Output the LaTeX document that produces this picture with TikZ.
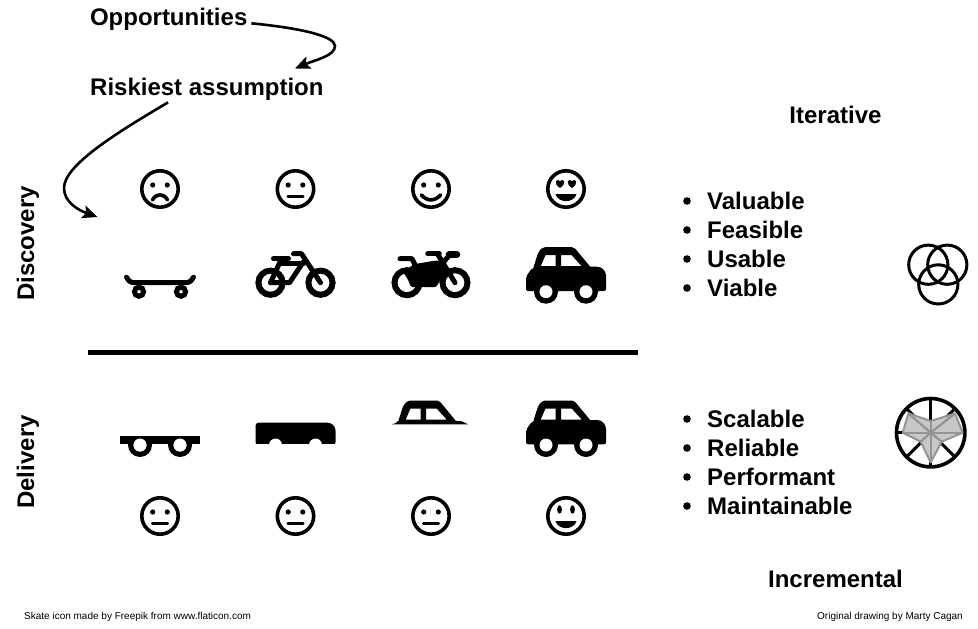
\documentclass[tikz,border=0pt]{standalone}
\usepackage{fontspec}
\setmainfont{Liberation Sans}
\usetikzlibrary{arrows.meta}

\tikzset{
    bigtext/.style={font=\bfseries\fontsize{24}{24}\selectfont,inner sep=2pt},
    smalltext/.style={font=\fontsize{10}{12}\selectfont,inner sep=0pt},
    curvearrow/.style={line width=2.6,-{Stealth[length=15pt,width=13pt,inset=3pt]}},
    wheelpart/.style={line width=6},
    roundpart/.style={line width=5,line cap=round,line join=round},
    facering/.pic={
        \draw[line width=3.6](0,0)circle[radius=18.2];
    },
    roundeyes/.pic={
        \fill(-7.3,-4)circle[radius=2.6];
        \fill(7.3,-4)circle[radius=2.6];
    },
    sadface/.pic={
        \pic{facering};\pic{roundeyes};
        \draw[line width=3.6,line cap=round](-7.5,11)..controls(-4,4)and(4,4)..(7.5,11);
    },
    plainface/.pic={
        \pic{facering};\pic{roundeyes};
        \draw[line width=3.4,line cap=round](-7.5,7.5)--(7.5,7.5);
    },
    smileface/.pic={
        \pic{facering};\pic{roundeyes};
        \draw[line width=3.6,line cap=round](-9.5,6)..controls(-4,12.5)and(4,12.5)..(9.5,6);
    },
    loveface/.pic={
        \pic{facering};
        \foreach \sx in {-6,6}{
            \fill[shift={(\sx,-5.5)}](0,4.5)..controls(-7,0)and(-4,-6)..(0,-2.5)..controls(4,-6)and(7,0)..(0,4.5);
        }
        \fill(-10.5,5)--(10.5,5)..controls(8,14.5)and(-8,14.5)..cycle;
    },
    happyface/.pic={
        \pic{facering};
        \fill(-6.5,-6.5)ellipse[x radius=2.4,y radius=4.2];
        \fill(6.5,-6.5)ellipse[x radius=2.4,y radius=4.2];
        \fill(-10.5,5)--(10.5,5)..controls(8,14.5)and(-8,14.5)..cycle;
    },
    skateboard/.pic={
        \draw[line width=5,line cap=round](-33.5,-14.5)..controls(-31,-10)and(-29,-9)..(-25,-9)--(25,-9)..controls(29,-9)and(31,-10)..(33.5,-14.5);
        \foreach \sx in {-21,21}{
            \draw[line width=5](\sx,0)circle[radius=4.6];
        }
    },
    bicycle/.pic={
        \begin{scope}[shift={(0,-9)}]
            \foreach \sx in {-25,25}{
                \draw[wheelpart](\sx,0)circle[radius=12.1];
            }
            \draw[roundpart](-22,-24)--(-7,-24);
            \draw[roundpart](-25,0)--(-14,-24);
            \draw[roundpart](-25,0)--(-6,0)--(8,-21);
            \draw[roundpart](-14,-19)--(8,-19);
            \draw[roundpart](25,0)--(6,-29)--(-2,-29);
        \end{scope}
    },
    motorbike/.pic={
        \begin{scope}[shift={(0,-9)}]
            \foreach \sx in {-24,24}{
                \draw[wheelpart](\sx,0)circle[radius=12.5];
            }
            \draw[roundpart](-31,-24)--(-19,-24)--(-15,-16);
            \fill[rounded corners=1.5](-28,-11)--(-17,-18.5)--(4,-22)--(10,-22)--(16,-13)--(5,4.5)--(-20,4.5)--(-23,-3)--cycle;
            \draw[roundpart](24,0)--(7,-28);
            \draw[roundpart,line width=5.5](-3,-29)--(8,-29);
            \draw[roundpart,line width=6.5](18,-28)--(26,-28);
            \draw[roundpart](11,-19)--(19,-28);
        \end{scope}
    },
    carwheels/.pic={
        \foreach \sx in {-20,20}{
            \fill(\sx,0)circle[radius=12];
        }
        \foreach \sx in {-20,20}{
            \fill[white](\sx,0)circle[radius=6.5];
        }
    },
    carcabin/.pic={
        \fill[even odd rule,rounded corners=2](-33,-23)--(-27.5,-40)--(-23,-44.5)--(8,-44.5)--(25,-24)--(25,-23)--cycle
        [sharp corners](-25.3,-25.5)--(-10.5,-25.5)--(-10.5,-36.5)--(-20.5,-36.5)--cycle
        (-5,-25.5)--(15.7,-25.5)--(5.7,-36.5)--(-5,-36.5)--cycle;
    },
    carroof/.pic={
        \pic{carcabin};
        \fill(-39,-20.7)..controls(-36,-21)and(-34,-22.5)..(-33,-24)--(25,-24)--(31,-23.7)..controls(34,-23)and(35,-21)..(37,-20.7)--cycle;
    },
    fullcar/.pic={
        \pic{carcabin};
        \fill[rounded corners=2](-40,-0.7)--(-40,-15)[rounded corners=5]--(-33,-25)[rounded corners=9]--(40,-25)[rounded corners=2]--(40,-0.7)--cycle;
        \pic{carwheels};
    },
    plankwheels/.pic={
        \begin{scope}
            \clip(-40,-9)rectangle(40,14);
            \pic{carwheels};
        \end{scope}
        \fill(-40,-9)rectangle(40,-0.7);
        \foreach \sx in {-20,20}{
            \fill[white](\sx,0)circle[radius=6.5];
        }
    },
    carbody/.pic={
        \fill[rounded corners=3](-40,-0.7)--(-40,-22.3)[rounded corners=8]--(40,-22.3)[rounded corners=2]--(40,-0.7)--cycle;
        \foreach \sx in {-20,20}{
            \fill[white](\sx,0)circle[radius=6.5];
        }
        \fill[white](-40.5,-0.7)rectangle(40.5,8);
    },
    vennsign/.pic={
        \draw[line width=3](-10.2,-10)circle[radius=19.6];
        \draw[line width=3](8.8,-10)circle[radius=19.6];
        \draw[line width=3](-0.2,9.7)circle[radius=19.6];
    },
    radarsign/.pic={
        \foreach \ang in {0,45,...,315}{
            \draw[line width=3](0,0)--(\ang:34.5);
        }
        \draw[line width=3.6](0,0)circle[radius=34.2];
        \fill[black!22](-22.3,-19.3)--(0,-11.7)--(24.3,-19.3)--(32,0)--(11,9)--(0,29.7)--(-10,9)--(-28,0)--cycle;
        \foreach \px/\py in {-22.3/-19.3,0/-11.7,24.3/-19.3,32/0,11/9,0/29.7,-10/9,-28/0}{
            \draw[black!42,line width=2.2](0,0)--(\px,\py);
        }
        \draw[black!42,line width=2,line join=round](-22.3,-19.3)--(0,-11.7)--(24.3,-19.3)--(32,0)--(11,9)--(0,29.7)--(-10,9)--(-28,0)--cycle;
    },
}

\begin{document}
\begin{tikzpicture}[x=1pt,y=-1pt]
    \useasboundingbox(0,0)rectangle(978,629);

    \node[bigtext,anchor=west,outer xsep=2pt](opp) at(86,19){Opportunities};
    \node[bigtext,anchor=west](risk) at(88,89){Riskiest assumption};
    \node[bigtext](iter) at(835.5,115){Iterative};
    \node[bigtext](incr) at(835.5,579){Incremental};
    \node[bigtext,rotate=90](disc) at(28,243.5){Discovery};
    \node[bigtext,rotate=90](deli) at(28,462){Delivery};

    \coordinate (oppend) at(295,68.5);
    \coordinate (riskend) at(97.5,217);
    \draw[curvearrow](opp.-3)..controls(300,28)and(335,36)..(335,46)..controls(335,56)and(315,60)..(oppend);
    \draw[curvearrow](risk.199.5)..controls(118,132)and(64,165)..(64,188)..controls(64,202)and(78,210)..(riskend);

    \foreach \px/\topface/\topicon/\lowicon/\lowface in {160/sadface/skateboard/plankwheels/plainface,295.5/plainface/bicycle/carbody/plainface,431/smileface/motorbike/carroof/plainface,566/loveface/fullcar/fullcar/happyface}{
        \pic at(\px,189){\topface};
        \pic at(\px,291.7){\topicon};
        \pic at(\px,445){\lowicon};
        \pic at(\px,516){\lowface};
    }

    \coordinate (barleft) at(88,352);
    \coordinate (barright) at(638,352);
    \draw[line width=5](barleft)--(barright);

    \foreach \name/\py/\word in {val/201/Valuable,fea/230/Feasible,usa/259/Usable,via/288/Viable,sca/419/Scalable,rel/448/Reliable,per/477/Performant,mai/506/Maintainable}{
        \fill(687,\py)circle[radius=3.8];
        \node[bigtext,anchor=west](\name) at(705,\py){\word};
    }

    \pic at(938.5,274.7){vennsign};
    \pic at(930.7,432.7){radarsign};

    \node[smalltext,anchor=west](skate) at(24,617){Skate icon made by Freepik from www.flaticon.com};
    \node[smalltext,anchor=east](orig) at(963,617){Original drawing by Marty Cagan};
\end{tikzpicture}
\end{document}
